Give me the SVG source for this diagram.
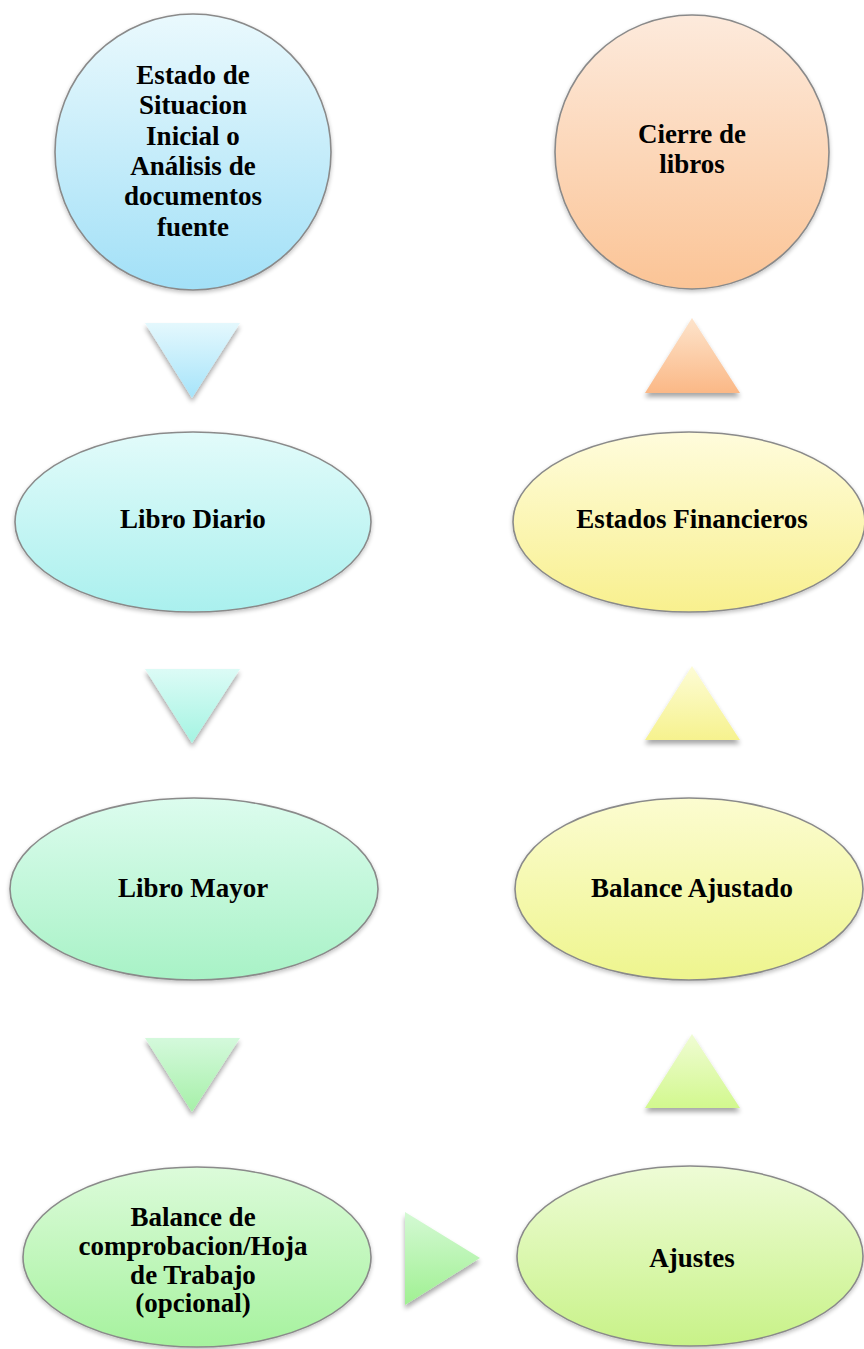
<svg xmlns="http://www.w3.org/2000/svg" width="864" height="1349" viewBox="0 0 864 1349">
<defs>
<style>
.node{stroke:#8a8a8a;stroke-width:1.6}
.lbl{font-family:"Liberation Serif","Times New Roman",serif;font-weight:bold;font-size:27px;fill:#000;text-anchor:middle}
.tri{filter:url(#sh)}
</style>
<filter id="sh" x="-30%" y="-30%" width="160%" height="160%">
<feGaussianBlur in="SourceAlpha" stdDeviation="2.5"/>
<feOffset dx="0" dy="4" result="b"/>
<feComponentTransfer><feFuncA type="linear" slope="0.35"/></feComponentTransfer>
<feMerge><feMergeNode/><feMergeNode in="SourceGraphic"/></feMerge>
</filter>
<filter id="nsh" x="-10%" y="-10%" width="120%" height="125%">
<feGaussianBlur in="SourceAlpha" stdDeviation="2"/>
<feOffset dx="0" dy="2"/>
<feComponentTransfer><feFuncA type="linear" slope="0.25"/></feComponentTransfer>
<feMerge><feMergeNode/><feMergeNode in="SourceGraphic"/></feMerge>
</filter>
<linearGradient id="gEstado" x1="0" y1="0" x2="0" y2="1"><stop offset="0" stop-color="#eaf9fd"/><stop offset="1" stop-color="#a2e0f7"/></linearGradient>
<linearGradient id="gCierre" x1="0" y1="0" x2="0" y2="1"><stop offset="0" stop-color="#fdeadc"/><stop offset="1" stop-color="#fbc496"/></linearGradient>
<linearGradient id="gDiario" x1="0" y1="0" x2="0" y2="1"><stop offset="0" stop-color="#e2fbfa"/><stop offset="1" stop-color="#aaf0ee"/></linearGradient>
<linearGradient id="gEF" x1="0" y1="0" x2="0" y2="1"><stop offset="0" stop-color="#fffcdc"/><stop offset="1" stop-color="#f8f08e"/></linearGradient>
<linearGradient id="gMayor" x1="0" y1="0" x2="0" y2="1"><stop offset="0" stop-color="#dcfcee"/><stop offset="1" stop-color="#a8f2c6"/></linearGradient>
<linearGradient id="gBA" x1="0" y1="0" x2="0" y2="1"><stop offset="0" stop-color="#fcfcd0"/><stop offset="1" stop-color="#eef58e"/></linearGradient>
<linearGradient id="gBC" x1="0" y1="0" x2="0" y2="1"><stop offset="0" stop-color="#dcfbda"/><stop offset="1" stop-color="#a6f29e"/></linearGradient>
<linearGradient id="gAj" x1="0" y1="0" x2="0" y2="1"><stop offset="0" stop-color="#eefcd6"/><stop offset="1" stop-color="#c8f288"/></linearGradient>
<linearGradient id="t1" x1="0" y1="0" x2="0" y2="1"><stop offset="0" stop-color="#e4f8fd"/><stop offset="1" stop-color="#a6e4fa"/></linearGradient>
<linearGradient id="t2" x1="0" y1="0" x2="0" y2="1"><stop offset="0" stop-color="#dcfbf6"/><stop offset="1" stop-color="#a4f4e2"/></linearGradient>
<linearGradient id="t3" x1="0" y1="0" x2="0" y2="1"><stop offset="0" stop-color="#d4f9dc"/><stop offset="1" stop-color="#a6f0a8"/></linearGradient>
<linearGradient id="t4" x1="0" y1="0" x2="0" y2="1"><stop offset="0" stop-color="#d4f9d4"/><stop offset="1" stop-color="#a0f092"/></linearGradient>
<linearGradient id="t5" x1="0" y1="0" x2="0" y2="1"><stop offset="0" stop-color="#f0fcd4"/><stop offset="1" stop-color="#d2f88e"/></linearGradient>
<linearGradient id="t6" x1="0" y1="0" x2="0" y2="1"><stop offset="0" stop-color="#fdfcd6"/><stop offset="1" stop-color="#f6f28e"/></linearGradient>
<linearGradient id="t7" x1="0" y1="0" x2="0" y2="1"><stop offset="0" stop-color="#fde4cc"/><stop offset="1" stop-color="#fbb886"/></linearGradient>
</defs>
<rect width="864" height="1349" fill="#ffffff"/>

<g id="connectors">
<polygon class="tri" points="145,323 240,323 192,398" fill="url(#t1)"/>
<polygon class="tri" points="145,669 240,669 192,743" fill="url(#t2)"/>
<polygon class="tri" points="145,1038 240,1038 192,1112" fill="url(#t3)"/>
<polygon class="tri" points="405,1212 480,1258 405,1305" fill="url(#t4)"/>
<polygon class="tri" points="645,1108 740,1108 692,1034" fill="url(#t5)"/>
<polygon class="tri" points="645,740 740,740 692,666" fill="url(#t6)"/>
<polygon class="tri" points="645,393 740,393 692,318" fill="url(#t7)"/>
</g>

<g id="node-estado">
<circle class="node" cx="193" cy="152" r="138" fill="url(#gEstado)" filter="url(#nsh)"/>
<text class="lbl" x="193" y="84">Estado de</text>
<text class="lbl" x="193" y="114">Situacion</text>
<text class="lbl" x="193" y="145">Inicial o</text>
<text class="lbl" x="193" y="175">Análisis de</text>
<text class="lbl" x="193" y="205">documentos</text>
<text class="lbl" x="193" y="236">fuente</text>
</g>

<g id="node-cierre">
<circle class="node" cx="692" cy="152" r="137" fill="url(#gCierre)" filter="url(#nsh)"/>
<text class="lbl" x="692" y="143">Cierre de</text>
<text class="lbl" x="692" y="173">libros</text>
</g>

<g id="node-diario">
<ellipse class="node" cx="193" cy="522" rx="178" ry="90" fill="url(#gDiario)" filter="url(#nsh)"/>
<text class="lbl" x="193" y="528">Libro Diario</text>
</g>

<g id="node-ef">
<ellipse class="node" cx="689" cy="522" rx="176" ry="90" fill="url(#gEF)" filter="url(#nsh)"/>
<text class="lbl" x="692" y="528">Estados Financieros</text>
</g>

<g id="node-mayor">
<ellipse class="node" cx="194" cy="889" rx="184" ry="91" fill="url(#gMayor)" filter="url(#nsh)"/>
<text class="lbl" x="193" y="897">Libro Mayor</text>
</g>

<g id="node-ba">
<ellipse class="node" cx="689" cy="889" rx="174" ry="91" fill="url(#gBA)" filter="url(#nsh)"/>
<text class="lbl" x="692" y="897">Balance Ajustado</text>
</g>

<g id="node-bc">
<ellipse class="node" cx="197" cy="1257" rx="174" ry="90" fill="url(#gBC)" filter="url(#nsh)"/>
<text class="lbl" x="193" y="1226">Balance de</text>
<text class="lbl" x="193" y="1255">comprobacion/Hoja</text>
<text class="lbl" x="193" y="1284">de Trabajo</text>
<text class="lbl" x="193" y="1312">(opcional)</text>
</g>

<g id="node-ajustes">
<ellipse class="node" cx="690" cy="1256" rx="173" ry="90" fill="url(#gAj)" filter="url(#nsh)"/>
<text class="lbl" x="692" y="1267">Ajustes</text>
</g>
</svg>
